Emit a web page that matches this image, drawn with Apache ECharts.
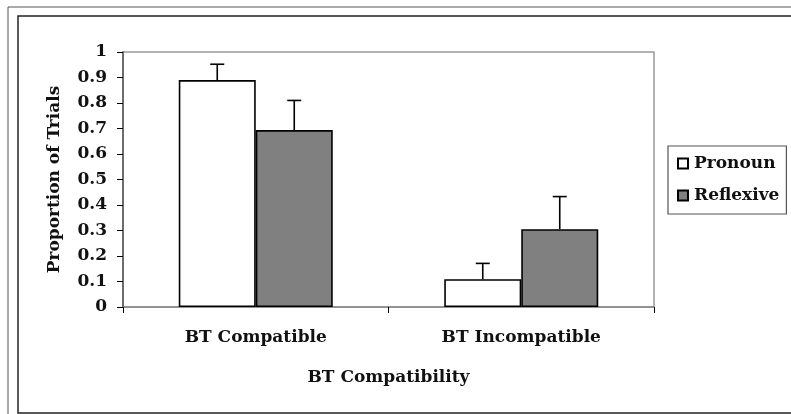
<!DOCTYPE html>
<html>
<head>
<meta charset="utf-8">
<script src="https://cdn.jsdelivr.net/npm/echarts@6/dist/echarts.min.js"></script>
<style>
html,body{margin:0;padding:0;background:#fff;}
#chart{width:791px;height:414px;}
</style>
</head>
<body>
<div id="chart"></div>
<script>
const categories = ['BT Compatible', 'BT Incompatible'];
const seriesNames = ['Pronoun', 'Reflexive'];
const pronoun = [0.89, 0.109];
const reflexive = [0.694, 0.305];
const pronounErr = [0.062, 0.062];
const reflexiveErr = [0.116, 0.128];
const yTicks = [0, 0.1, 0.2, 0.3, 0.4, 0.5, 0.6, 0.7, 0.8, 0.9, 1];

const FONT = 'DejaVu Serif';
const FS = 17;
const BAR_FRAC = 0.29;

const chart = echarts.init(document.getElementById('chart'), null, {renderer: 'canvas'});

function errSeries(name, vals, errs, side) {
  return {
    type: 'custom',
    name: name + ' err',
    z: 10,
    silent: true,
    data: vals.map((v, i) => [i, v, errs[i]]),
    renderItem: function (params, api) {
      const band = api.size([1, 0])[0];
      const bw = band * BAR_FRAC;
      const off = side * bw / 2;
      const base = api.coord([api.value(0), api.value(1)]);
      const top = api.coord([api.value(0), api.value(1) + api.value(2)]);
      const x = base[0] + off;
      const st = {stroke: '#000', lineWidth: 1.6};
      return {
        type: 'group',
        children: [
          {type: 'line', shape: {x1: x, y1: base[1], x2: x, y2: top[1]}, style: st},
          {type: 'line', shape: {x1: x - 7, y1: top[1], x2: x + 7, y2: top[1]}, style: st}
        ]
      };
    }
  };
}

const option = {
  backgroundColor: '#fff',
  animation: false,
  textStyle: {fontFamily: FONT},
  graphic: [
    {type: 'rect', shape: {x: 8, y: 7, width: 900, height: 500}, style: {fill: 'none', stroke: '#555', lineWidth: 1}},
    {type: 'rect', shape: {x: 18, y: 16, width: 900, height: 397}, style: {fill: 'none', stroke: '#222', lineWidth: 1.5}}
  ],
  grid: {
    left: 123, right: 137, top: 52, bottom: 107,
    show: true, borderColor: '#999', borderWidth: 1.5, backgroundColor: 'transparent'
  },
  legend: {
    orient: 'vertical',
    left: 668, top: 146,
    data: seriesNames,
    icon: 'rect',
    itemWidth: 10, itemHeight: 10,
    itemGap: 15,
    padding: [9, 7, 10, 9],
    borderColor: '#555', borderWidth: 1.2,
    textStyle: {fontFamily: FONT, fontSize: FS, fontWeight: 'bold', color: '#111', padding: [0, 0, 0, 1]}
  },
  xAxis: {
    type: 'category',
    data: categories,
    name: 'BT Compatibility',
    nameLocation: 'middle',
    nameGap: 62,
    nameTextStyle: {fontFamily: FONT, fontSize: FS, fontWeight: 'bold', color: '#111'},
    axisLine: {lineStyle: {color: '#888', width: 1.5}},
    axisTick: {show: true, inside: false, length: 6, alignWithLabel: false, lineStyle: {color: '#000', width: 1}},
    axisLabel: {margin: 22, fontFamily: FONT, fontSize: FS, fontWeight: 'bold', color: '#111'},
    splitLine: {show: false}
  },
  yAxis: {
    type: 'value',
    min: 0, max: 1, interval: 0.1,
    name: 'Proportion of Trials',
    nameLocation: 'middle',
    nameGap: 60,
    nameTextStyle: {fontFamily: FONT, fontSize: FS, fontWeight: 'bold', color: '#111'},
    axisLine: {show: true, lineStyle: {color: '#555', width: 1.5}},
    axisTick: {show: true, inside: false, length: 6, lineStyle: {color: '#000', width: 1}},
    axisLabel: {
      margin: 16, fontFamily: FONT, fontSize: FS, fontWeight: 'bold', color: '#111',
      formatter: function (v) { const t = yTicks.find(k => Math.abs(k - v) < 1e-9); return t === undefined ? '' : String(t); }
    },
    splitLine: {show: false}
  },
  series: [
    {
      name: seriesNames[0], type: 'bar', data: pronoun,
      barWidth: (BAR_FRAC * 100) + '%', barGap: '0%',
      itemStyle: {color: '#ffffff', borderColor: '#000', borderWidth: 1.6}
    },
    {
      name: seriesNames[1], type: 'bar', data: reflexive,
      barWidth: (BAR_FRAC * 100) + '%', barGap: '0%',
      itemStyle: {color: '#808080', borderColor: '#000', borderWidth: 1.6}
    },
    errSeries(seriesNames[0], pronoun, pronounErr, -1),
    errSeries(seriesNames[1], reflexive, reflexiveErr, 1)
  ]
};
chart.setOption(option);
</script>
</body>
</html>
